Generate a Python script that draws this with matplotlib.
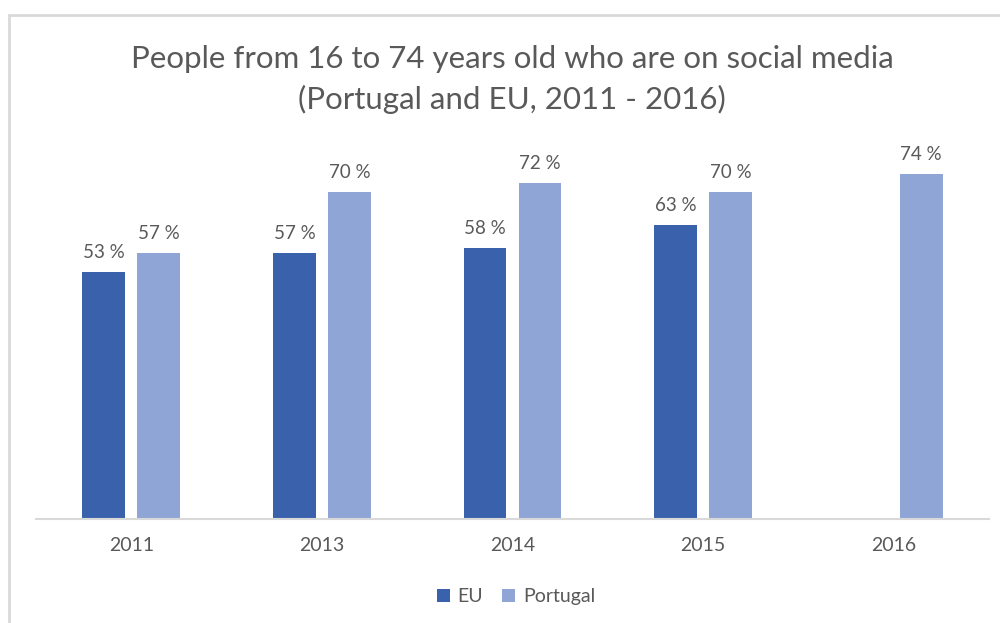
import matplotlib.pyplot as plt
import matplotlib.patches as mpatches
import numpy as np

years = ['2011', '2013', '2014', '2015', '2016']
eu = [53, 57, 58, 63, np.nan]
portugal = [57, 70, 72, 70, 74]

eu_color = '#3A62AC'
pt_color = '#8FA5D6'
text_color = '#595959'

plt.rcParams['font.family'] = ['Lato', 'DejaVu Sans']

fig = plt.figure(figsize=(10, 6.23), dpi=100)
ax = fig.add_axes([0.036, 0.167, 0.953, 0.599])

x = np.arange(len(years))
w = 0.225
off = 0.144
b1 = ax.bar(x - off, eu, w, color=eu_color, label='EU')
b2 = ax.bar(x + off, portugal, w, color=pt_color, label='Portugal')

for bars, vals in ((b1, eu), (b2, portugal)):
    for rect, v in zip(bars, vals):
        if np.isnan(v):
            continue
        ax.text(rect.get_x() + rect.get_width() / 2, v + 2.4, f'{v:.0f} %',
                ha='center', va='bottom', fontsize=13.5, color=text_color)

ax.set_xlim(-0.5, len(years) - 0.5)
ax.set_ylim(0, 80)
ax.set_xticks(x)
ax.set_xticklabels(years, fontsize=14, color=text_color)
ax.tick_params(axis='x', length=0, pad=13)
ax.set_yticks([])
for s in ['top', 'right', 'left']:
    ax.spines[s].set_visible(False)
ax.spines['bottom'].set_color('#D9D9D9')
ax.spines['bottom'].set_linewidth(1.5)

fig.text(0.512, 0.905, 'People from 16 to 74 years old who are on social media',
         ha='center', va='center', fontsize=22.5, color=text_color)
fig.text(0.512, 0.84, '(Portugal and EU, 2011 - 2016)',
         ha='center', va='center', fontsize=22.5, color=text_color)

fig.legend(handles=[b1, b2], loc='center', bbox_to_anchor=(0.516, 0.042),
           ncol=2, frameon=False, fontsize=14, labelcolor=text_color,
           handlelength=0.65, handleheight=0.65, handletextpad=0.4, columnspacing=1.0)

# outer chart border
fig.patches.append(mpatches.Rectangle((0.0085, -0.05), 1.2, 1.05 - 15 / 623,
                                      transform=fig.transFigure, fill=False,
                                      edgecolor='#D9D9D9', linewidth=2))

fig.savefig('out.png', dpi=100)
